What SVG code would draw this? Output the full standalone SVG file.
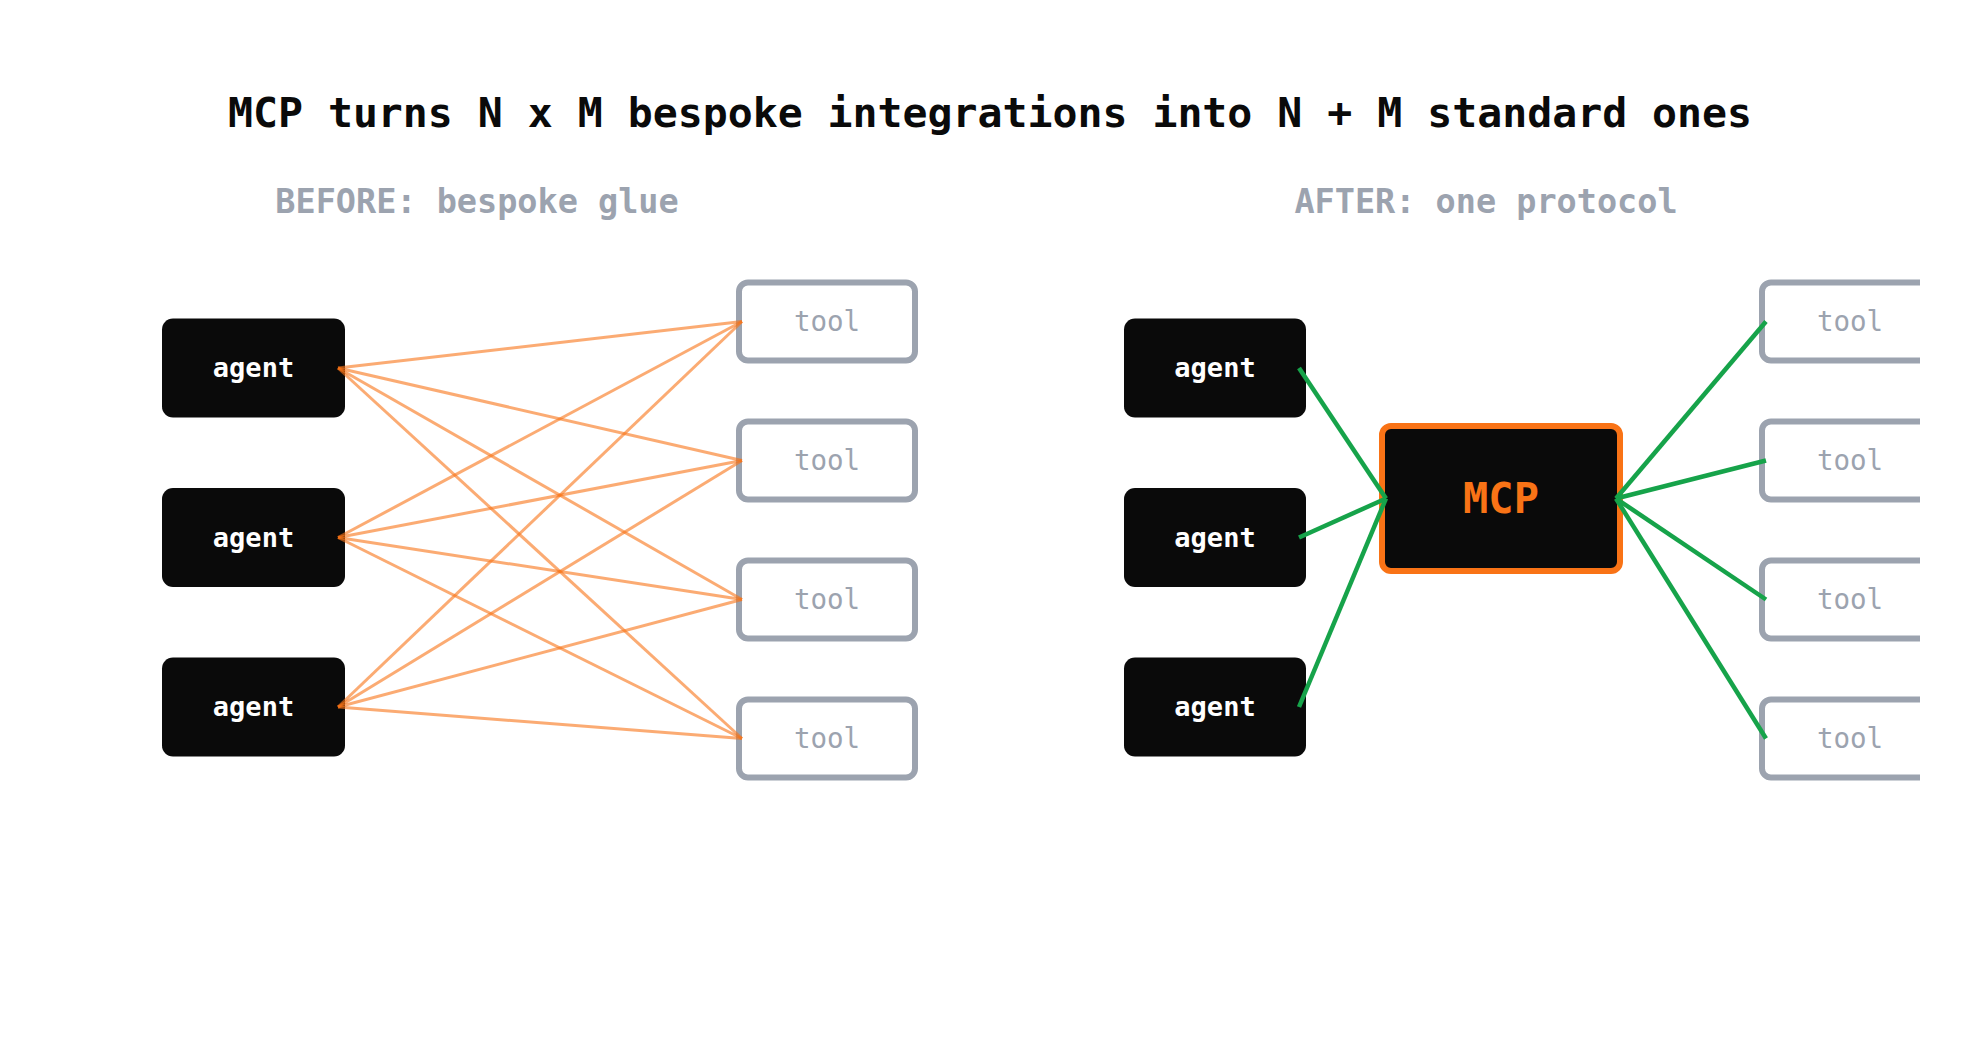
<svg xmlns="http://www.w3.org/2000/svg" width="1980" height="1044" viewBox="0 0 1980 1044">
<style>
text{font-family:"DejaVu Sans Mono","Liberation Mono",monospace;text-anchor:middle}
.title{font-size:41.5px;font-weight:bold;fill:#0a0a0a}
.sub{font-size:33.5px;font-weight:bold;fill:#9ca3af}
.agent rect{fill:#0a0a0a}
.agent text{font-size:27px;font-weight:bold;fill:#ffffff}
.tool rect{fill:#ffffff;stroke:#9ca3af;stroke-width:6}
.tool text{font-size:27.5px;fill:#9ca3af}
.mcp rect{fill:#0a0a0a;stroke:#f97316;stroke-width:6}
.mcp text{font-size:42px;font-weight:bold;fill:#f97316}
.bespoke line{stroke:#f97316;stroke-opacity:0.6;stroke-width:3}
.proto line{stroke:#16a34a;stroke-width:4.5}
</style>
<defs><clipPath id="frame"><rect x="0" y="0" width="1920" height="1044"/></clipPath></defs>
<rect width="1980" height="1044" fill="#ffffff"/>
<g clip-path="url(#frame)">
<text class="title" x="990" y="127">MCP turns N x M bespoke integrations into N + M standard ones</text>
<text class="sub" x="477" y="213">BEFORE: bespoke glue</text>
<text class="sub" x="1486" y="213">AFTER: one protocol</text>

<g id="before-agent-1" class="agent"><rect x="162" y="318.5" width="183" height="99" rx="11"/><text x="253.5" y="377">agent</text></g>
<g id="before-agent-2" class="agent"><rect x="162" y="488" width="183" height="99" rx="11"/><text x="253.5" y="546.5">agent</text></g>
<g id="before-agent-3" class="agent"><rect x="162" y="657.5" width="183" height="99" rx="11"/><text x="253.5" y="716">agent</text></g>

<g id="before-tool-1" class="tool"><rect x="739" y="282.5" width="176" height="78" rx="9"/><text x="827" y="331">tool</text></g>
<g id="before-tool-2" class="tool"><rect x="739" y="421.5" width="176" height="78" rx="9"/><text x="827" y="470">tool</text></g>
<g id="before-tool-3" class="tool"><rect x="739" y="560.5" width="176" height="78" rx="9"/><text x="827" y="609">tool</text></g>
<g id="before-tool-4" class="tool"><rect x="739" y="699.5" width="176" height="78" rx="9"/><text x="827" y="748">tool</text></g>

<g id="after-agent-1" class="agent"><rect x="1124" y="318.5" width="182" height="99" rx="11"/><text x="1215" y="377">agent</text></g>
<g id="after-agent-2" class="agent"><rect x="1124" y="488" width="182" height="99" rx="11"/><text x="1215" y="546.5">agent</text></g>
<g id="after-agent-3" class="agent"><rect x="1124" y="657.5" width="182" height="99" rx="11"/><text x="1215" y="716">agent</text></g>

<g id="mcp" class="mcp"><rect x="1382" y="426" width="238" height="145" rx="9"/><text x="1501" y="513">MCP</text></g>

<g id="after-tool-1" class="tool"><rect x="1762" y="282.5" width="176" height="78" rx="9"/><text x="1850" y="331">tool</text></g>
<g id="after-tool-2" class="tool"><rect x="1762" y="421.5" width="176" height="78" rx="9"/><text x="1850" y="470">tool</text></g>
<g id="after-tool-3" class="tool"><rect x="1762" y="560.5" width="176" height="78" rx="9"/><text x="1850" y="609">tool</text></g>
<g id="after-tool-4" class="tool"><rect x="1762" y="699.5" width="176" height="78" rx="9"/><text x="1850" y="748">tool</text></g>

<g id="connectors">
<g class="bespoke">
<line x1="338" y1="368" x2="742" y2="321.5"/>
<line x1="338" y1="368" x2="742" y2="460.5"/>
<line x1="338" y1="368" x2="742" y2="599.5"/>
<line x1="338" y1="368" x2="742" y2="738.5"/>
<line x1="338" y1="537.5" x2="742" y2="321.5"/>
<line x1="338" y1="537.5" x2="742" y2="460.5"/>
<line x1="338" y1="537.5" x2="742" y2="599.5"/>
<line x1="338" y1="537.5" x2="742" y2="738.5"/>
<line x1="338" y1="707" x2="742" y2="321.5"/>
<line x1="338" y1="707" x2="742" y2="460.5"/>
<line x1="338" y1="707" x2="742" y2="599.5"/>
<line x1="338" y1="707" x2="742" y2="738.5"/>
</g>
<g class="proto">
<line x1="1299" y1="368" x2="1386" y2="498.5"/>
<line x1="1299" y1="537.5" x2="1386" y2="498.5"/>
<line x1="1299" y1="707" x2="1386" y2="498.5"/>
<line x1="1616" y1="498.5" x2="1766" y2="321.5"/>
<line x1="1616" y1="498.5" x2="1766" y2="460.5"/>
<line x1="1616" y1="498.5" x2="1766" y2="599.5"/>
<line x1="1616" y1="498.5" x2="1766" y2="738.5"/>
</g>
</g>
</g>
</svg>
